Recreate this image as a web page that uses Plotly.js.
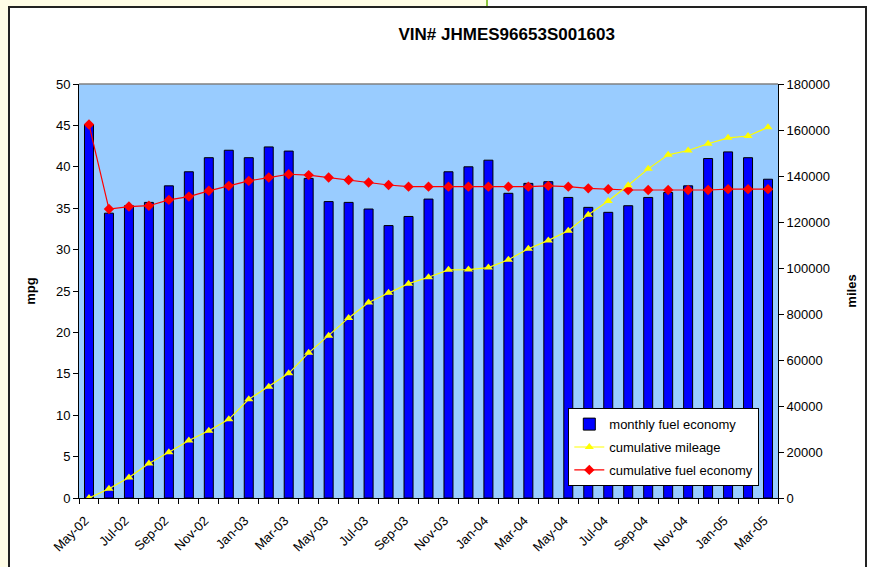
<!DOCTYPE html>
<html>
<head>
<meta charset="utf-8">
<script src="https://cdn.plot.ly/plotly-3.0.1.min.js"></script>
<style>
  html, body { margin: 0; padding: 0; background: #ffffff; width: 873px; height: 567px; overflow: hidden; }
  #yl1 { position: absolute; left: 0; top: 0; width: 8px; height: 567px; background: #FFFDE6; }
  #yl2 { position: absolute; left: 0; top: 0; width: 486px; height: 6px; background: #FFFDE6; }
  #gl { position: absolute; left: 486px; top: 0; width: 2px; height: 6px; background: #8DC63F; }
  #chart { position: absolute; left: 8px; top: 6px; width: 855px; height: 570px;
           border-left: 2px solid #222; border-top: 2px solid #222; border-right: 2px solid #222; }
</style>
</head>
<body>
<div id="yl1"></div><div id="yl2"></div><div id="gl"></div>
<div id="chart"></div>
<script>
const months = ["May-02","Jun-02","Jul-02","Aug-02","Sep-02","Oct-02","Nov-02","Dec-02",
  "Jan-03","Feb-03","Mar-03","Apr-03","May-03","Jun-03","Jul-03","Aug-03","Sep-03","Oct-03","Nov-03","Dec-03",
  "Jan-04","Feb-04","Mar-04","Apr-04","May-04","Jun-04","Jul-04","Aug-04","Sep-04","Oct-04","Nov-04","Dec-04",
  "Jan-05","Feb-05","Mar-05"];
const monthlyFuelEconomy = [45.1, 34.4, 35.3, 35.7, 37.7, 39.4, 41.1, 42.0, 41.1, 42.4, 41.9, 38.6, 35.8, 35.7,
  34.9, 32.9, 34.0, 36.1, 39.4, 40.0, 40.8, 36.8, 38.0, 38.2, 36.3, 35.1, 34.5, 35.3,
  36.3, 36.9, 37.7, 41.0, 41.8, 41.1, 38.5];
const cumulativeMileage = [0, 4000, 8900, 15000, 19900, 25000, 29200, 34200, 42900, 48400, 54200, 63100, 70500, 78300,
  85000, 89200, 93200, 96000, 99200, 99300, 100200, 103600, 108400, 112000, 116200, 123200, 129100, 136000,
  143100, 149200, 151100, 154000, 156600, 157400, 161200];
const cumulativeFuelEconomy = [45.1, 34.9, 35.2, 35.3, 36.0, 36.4, 37.1, 37.7, 38.3, 38.7, 39.1, 39.0, 38.7, 38.4,
  38.1, 37.8, 37.6, 37.6, 37.6, 37.6, 37.6, 37.6, 37.6, 37.7, 37.6, 37.4, 37.3, 37.2,
  37.2, 37.2, 37.2, 37.2, 37.3, 37.3, 37.3];
const tickLabels = months.map((m, i) => (i % 2 === 0 ? m : ""));

const FONT = "Liberation Sans, Arial, sans-serif";

const traces = [
  { type: "bar", x: months, y: monthlyFuelEconomy, name: "monthly fuel economy", legendgroup: "a",
    marker: { color: "#0000FF", line: { color: "#000000", width: 1 } }, width: 0.45 },
  { type: "scatter", mode: "lines+markers", x: months, y: cumulativeMileage, yaxis: "y2",
    name: "cumulative mileage", legendgroup: "b",
    line: { color: "#FFFF00", width: 1.2 },
    marker: { symbol: "triangle-up", size: 8, color: "#FFFF00" } },
  { type: "scatter", mode: "lines+markers", x: months, y: cumulativeFuelEconomy,
    name: "cumulative fuel economy", legendgroup: "c",
    line: { color: "#FF0000", width: 1.2 },
    marker: { symbol: "diamond", size: 8, color: "#FF0000" } }
];

const layout = {
  width: 855, height: 570,
  margin: { l: 69, r: 87, t: 76, b: 80 },
  paper_bgcolor: "#ffffff",
  plot_bgcolor: "#99CCFF",
  font: { family: FONT, size: 13, color: "#000000" },
  title: { text: "<b>VIN# JHMES96653S001603</b>", font: { family: FONT, size: 17, color: "#000" },
           x: 0.581, xref: "container", xanchor: "center", y: 0.955, yref: "container", yanchor: "middle" },
  showlegend: true,
  legend: { x: 0.70, y: 0.217, xanchor: "left", yanchor: "top",
            bgcolor: "#ffffff", bordercolor: "#000000", borderwidth: 1,
            font: { family: FONT, size: 13, color: "#000" }, tracegroupgap: 3, itemwidth: 30 },
  xaxis: {
    type: "category", tickvals: months, ticktext: tickLabels, tickangle: -45,
    tickson: "boundaries", ticks: "outside", ticklen: 5, tickcolor: "#000",
    ticklabelstandoff: 9, ticklabelshift: -4,
    showline: true, linecolor: "#000", linewidth: 1, showgrid: false, automargin: false,
    tickfont: { family: FONT, size: 13, color: "#000" }, range: [-0.5, 34.5]
  },
  yaxis: {
    range: [0, 50], dtick: 5, ticks: "outside", ticklen: 5, tickcolor: "#000",
    showline: true, linecolor: "#000", linewidth: 1, showgrid: false, zeroline: false,
    automargin: false,
    title: { text: "<b>mpg</b>", font: { family: FONT, size: 13, color: "#000" }, standoff: 17 },
    tickfont: { family: FONT, size: 13, color: "#000" }
  },
  yaxis2: {
    range: [0, 180000], dtick: 20000, tickformat: "d", overlaying: "y", side: "right", ticks: "outside", ticklen: 5,
    tickcolor: "#000", showline: true, linecolor: "#000", linewidth: 1, showgrid: false, zeroline: false,
    automargin: false,
    title: { text: "<b>miles</b>", font: { family: FONT, size: 13, color: "#000" }, standoff: 17 },
    tickfont: { family: FONT, size: 13, color: "#000" }
  },
  bargap: 0.55,
  shapes: [
    { type: "line", xref: "paper", yref: "paper", x0: 0, x1: 1, y0: 1, y1: 1,
      line: { color: "#808080", width: 1.5 } }
  ]
};

Plotly.newPlot("chart", traces, layout, { displayModeBar: false, staticPlot: true });
</script>
</body>
</html>
